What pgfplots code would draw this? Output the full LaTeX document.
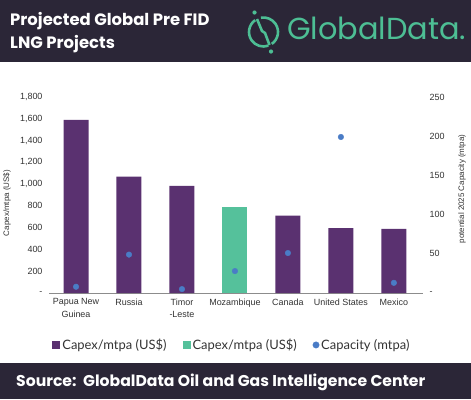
\documentclass[border=0pt]{standalone}
\usepackage{fontspec}
\setmainfont{Liberation Sans}
\newfontfamily\lato{Lato}
\newfontfamily\poppins{Poppins}
\usepackage{pgfplots}
\pgfplotsset{compat=1.18}
\definecolor{band}{HTML}{2B2637}
\definecolor{cpurple}{HTML}{5A3170}
\definecolor{cgreen}{HTML}{55C19B}
\definecolor{cblue}{HTML}{4A7CC6}
\definecolor{logogreen}{HTML}{4DBE94}
\definecolor{ticktext}{HTML}{333333}
\begin{document}
\begin{tikzpicture}[x=1bp,y=1bp]
\path[use as bounding box] (0,0) rectangle (471,-399);
\fill[band] (0,0) rectangle (471,-62);
\fill[band] (0,-363) rectangle (471,-399);
\node[anchor=base west, text=white, font=\poppins\bfseries\fontsize{16.5}{18}\selectfont, inner sep=0] at (10,-25) {Projected Global Pre FID};
\node[anchor=base west, text=white, font=\poppins\bfseries\fontsize{16.5}{18}\selectfont, inner sep=0] at (10,-48) {LNG Projects};
\node[anchor=base west, text=white, font=\poppins\bfseries\fontsize{15.7}{18}\selectfont, inner sep=0] at (16,-386) {Source:\ \ GlobalData Oil and Gas Intelligence Center};
\node[anchor=base west, text=logogreen, font=\poppins\fontsize{30.5}{34}\selectfont, inner sep=0] at (287,-39) {GlobalData.};
% logo icon
\draw[logogreen, line width=2.6] (263.5,-32) ++(125:14.5) arc[start angle=125, end angle=290, radius=14.5];
\draw[logogreen, line width=2.6] (263.5,-32) ++(-55:14.5) arc[start angle=-55, end angle=100, radius=14.5];
\draw[logogreen, line width=2.6] (257,-19) -- (262,-31) -- (265,-33) -- (269.5,-45);
\fill[logogreen] (254.5,-12.5) circle (2.1);
\fill[logogreen] (271,-51.5) circle (2.1);
% axis titles
\node[rotate=90, font=\fontsize{8}{10}\selectfont, text=ticktext] at (7,-203) {Capex/mtpa (US\$)};
\node[rotate=90, font=\fontsize{8}{10}\selectfont, text=ticktext] at (462,-189) {potential 2025 Capacity (mtpa)};

\begin{axis}[
  at={(49bp,-293bp)}, anchor=south west,
  scale only axis, width=374bp, height=196bp,
  xmin=-0.51, xmax=6.55, ymin=0, ymax=1800,
  axis y line*=left, axis x line*=bottom,
  y axis line style={draw=none},
  x axis line style={draw=black!45, line width=0.9pt},
  major tick length=0,
  xtick={0,1,2,3,4,5,6},
  xticklabels={{Papua New\\Guinea},Russia,{Timor\\-Leste},Mozambique,Canada,United States,Mexico},
  xticklabel style={align=center, font=\fontsize{9}{13}\selectfont, text=ticktext, yshift=-2bp},
  ytick={0,200,...,1800},
  yticklabels={-,200,400,600,800,{1,000},{1,200},{1,400},{1,600},{1,800}},
  yticklabel style={font=\fontsize{9}{11}\selectfont, text=ticktext, xshift=-3bp},
  legend columns=3,
  legend style={at={(axis description cs:0.489,-0.265)}, anchor=center, draw=none, fill=none,
    font=\lato\fontsize{13}{15}\selectfont, text=ticktext,
    /tikz/every even column/.append style={column sep=14bp}},
  legend cell align=left,
]
\addplot[ybar, bar width=25bp, bar shift=0pt, fill=cpurple, draw=none,
  legend image code/.code={\fill[cpurple] (0bp,-4bp) rectangle (8bp,4bp);}]
  coordinates {(0,1590) (1,1068) (2,983) (4,710) (5,597) (6,588)};
\addlegendentry{Capex/mtpa (US\$)}
\addplot[ybar, bar width=25bp, bar shift=0pt, fill=cgreen, draw=none,
  legend image code/.code={\fill[cgreen] (0bp,-4bp) rectangle (8bp,4bp);}]
  coordinates {(3,793)};
\addlegendentry{Capex/mtpa (US\$)}
\addlegendimage{only marks, mark=*, mark size=3.2bp, cblue}
\addlegendentry{Capacity (mtpa)}
\end{axis}

\begin{axis}[
  at={(49bp,-293bp)}, anchor=south west,
  scale only axis, width=374bp, height=196bp,
  xmin=-0.51, xmax=6.55, ymin=0, ymax=250,
  axis y line*=right, axis x line=none,
  y axis line style={draw=none},
  major tick length=0,
  ytick={0,50,...,250},
  yticklabels={-,50,100,150,200,250},
  yticklabel style={font=\fontsize{9}{11}\selectfont, text=ticktext, xshift=3bp},
]
\addplot[only marks, mark=*, mark size=2.8bp, cblue, draw=none]
  coordinates {(0,8) (1,49) (2,5) (3,28) (4,51) (5,199) (6,13)};
\end{axis}
\end{tikzpicture}
\end{document}
